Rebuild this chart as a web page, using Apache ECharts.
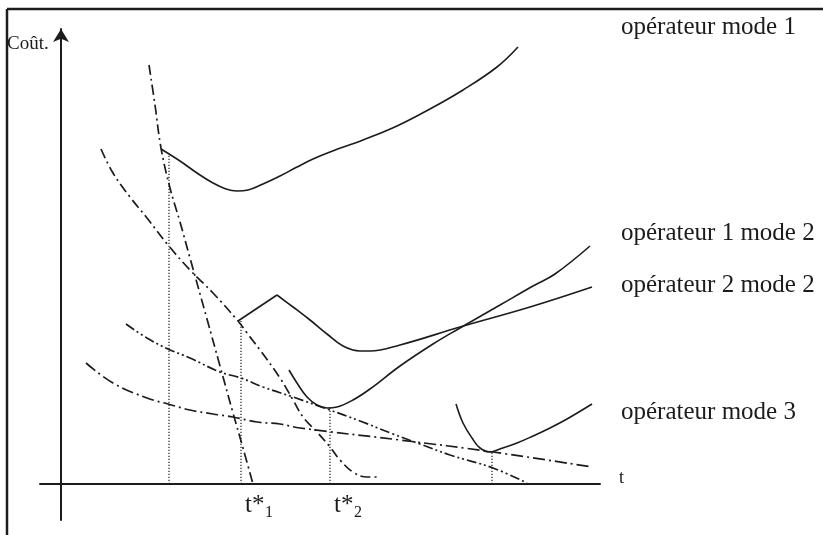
<!DOCTYPE html>
<html><head><meta charset="utf-8">
<script src="https://cdn.jsdelivr.net/npm/echarts@6/dist/echarts.min.js"></script>
<style>html,body{margin:0;padding:0;background:#fff}#c{width:823px;height:535px}</style>
</head><body><div id="c"></div>
<script>
// ---- data: [t, coût] ----
const mode1 = [[10.0,33.5],[11.9,32.3],[13.6,31.1],[15.2,30.1],[16.5,29.5],[17.6,29.3],[18.7,29.4],[20.2,30.0],[21.9,30.8],[23.6,31.7],[25.2,32.5],[26.9,33.2],[30.2,34.4],[33.6,35.8],[36.9,37.5],[40.2,39.4],[43.6,41.7],[45.7,43.7]];
const op1mode2 = [[22.8,11.4],[23.6,10.1],[24.6,8.7],[25.6,7.9],[26.6,7.6],[27.6,7.7],[29.2,8.4],[30.9,9.5],[33.9,11.8],[37.2,14.0],[39.9,15.6],[43.9,17.9],[47.2,19.8],[49.4,21.0],[52.9,23.8]];
const op2mode2Rise = [[17.7,16.3],[21.6,18.9]];
const op2mode2 = [[21.6,18.9],[23.2,17.7],[24.9,16.4],[26.6,15.0],[28.2,13.8],[29.9,13.3],[30.9,13.3],[33.9,13.9],[39.9,15.7],[46.9,17.7],[53.1,19.7]];
const mode3 = [[39.5,8.0],[40.2,6.1],[41.1,4.6],[41.9,3.6],[42.9,3.2],[43.9,3.5],[45.6,4.1],[47.2,4.8],[48.9,5.6],[50.6,6.5],[53.1,8.0]];
const costA = [[8.8,41.9],[9.4,37.9],[10.0,33.6],[10.9,29.6],[11.9,26.2],[12.9,22.6],[14.6,16.5],[15.9,11.8],[17.2,7.1],[18.2,3.6],[19.2,0.0]];
const costB = [[4.0,33.5],[5.2,31.1],[6.9,28.7],[8.6,26.6],[10.7,23.9],[12.9,21.4],[15.2,19.1],[17.7,16.3],[18.6,15.1],[19.9,13.4],[21.9,10.6],[23.2,8.4],[24.2,6.7],[25.6,5.2],[26.9,3.7],[27.9,2.4],[29.2,1.2],[30.6,0.7],[31.6,0.7]];
const costC = [[6.5,16.0],[8.6,14.6],[10.7,13.5],[12.9,12.6],[15.9,11.2],[18.0,10.6],[20.2,9.7],[23.2,8.7],[26.6,7.5],[29.9,6.3],[33.2,5.0],[35.9,4.0],[38.9,2.9],[43.2,1.6],[46.6,0.1]];
const costD = [[2.5,12.1],[5.2,10.1],[8.6,8.6],[10.7,8.0],[12.9,7.4],[15.2,7.0],[17.2,6.7],[19.6,6.2],[21.9,6.0],[23.9,5.6],[33.9,4.4],[43.2,3.2],[53.1,1.7]];
const optimaT = [10.8, 18.0, 26.9, 43.1];
const optimaC = [33.0, 16.3, 7.6, 3.2];
const tickMain = ['t*', 't*'];
const tickSub = ['1', '2'];
const tickT = [18.0, 26.9];
const curveLabels = ['opérateur mode 1', 'opérateur 1 mode 2', 'opérateur 2 mode 2', 'opérateur mode 3'];
const axisNameY = 'Coût.';
const axisNameX = 't';

const INK = '#1c1c1c';
const FONT = '"Liberation Serif", "Times New Roman", serif';
const chart = echarts.init(document.getElementById('c'), null, {renderer: 'canvas'});

function solid(data) {
  return {type: 'line', data, symbol: 'none', smooth: 0.4, silent: true,
    lineStyle: {color: INK, width: 1.6}};
}
function dashed(data, pattern) {
  return {type: 'line', data, symbol: 'none', smooth: 0.4, silent: true,
    lineStyle: {color: INK, width: 1.7, type: pattern}};
}
const dotSeries = optimaT.map((t, i) => ({
  type: 'line', symbol: 'none', silent: true,
  data: [[t, 0], [t, optimaC[i]]],
  lineStyle: {color: INK, width: 1.2, type: [1.2, 1.8]}
}));

chart.setOption({
  animation: false,
  backgroundColor: '#fff',
  grid: {left: 40, right: 223, top: 29, bottom: 15, containLabel: false},
  xAxis: {type: 'value', min: -2.1, max: 53.9,
    axisLine: {onZero: true, lineStyle: {color: INK, width: 2}},
    axisTick: {show: false}, axisLabel: {show: false}, splitLine: {show: false}},
  yAxis: {type: 'value', min: -3.6, max: 45.5,
    axisLine: {onZero: true, symbol: ['none', 'arrow'], symbolSize: [12, 13],
      lineStyle: {color: INK, width: 2}},
    axisTick: {show: false}, axisLabel: {show: false}, splitLine: {show: false}},
  series: [
    solid(mode1), solid(op1mode2),
    {type: 'line', data: op2mode2Rise, symbol: 'none', silent: true, lineStyle: {color: INK, width: 1.6}},
    solid(op2mode2), solid(mode3),
    dashed(costA, [10, 4, 2, 4]),
    dashed(costB, [10, 4, 2, 4]),
    dashed(costC, [10, 3, 2, 3, 2, 3]),
    dashed(costD, [12, 4, 2, 4])
  ].concat(dotSeries)
});

const labelPos = [[621, 27], [621, 233], [621, 285], [621, 412]];
const graphics = [
  {type: 'line', shape: {x1: 7, y1: 9, x2: 823, y2: 9}, style: {stroke: INK, lineWidth: 2.5}},
  {type: 'line', shape: {x1: 7, y1: 9, x2: 7, y2: 535}, style: {stroke: INK, lineWidth: 2.5}},
  {type: 'text', x: 7, y: 44, style: {text: axisNameY, font: '19px ' + FONT, fill: INK, verticalAlign: 'middle'}},
  {type: 'text', x: 619, y: 478, style: {text: axisNameX, font: '18px ' + FONT, fill: INK, verticalAlign: 'middle'}}
];
curveLabels.forEach((s, i) => graphics.push({type: 'text', x: labelPos[i][0], y: labelPos[i][1],
  style: {text: s, font: '25px ' + FONT, fill: INK, verticalAlign: 'middle'}}));
tickT.forEach((t, i) => {
  const p = chart.convertToPixel({gridIndex: 0}, [t, 0]);
  graphics.push({type: 'text', x: p[0] + 4, y: 505, style: {text: tickMain[i], font: '25px ' + FONT, fill: INK, verticalAlign: 'middle'}});
  graphics.push({type: 'text', x: p[0] + 24, y: 513, style: {text: tickSub[i], font: '16px ' + FONT, fill: INK, verticalAlign: 'middle'}});
});
chart.setOption({graphic: graphics});
</script></body></html>
